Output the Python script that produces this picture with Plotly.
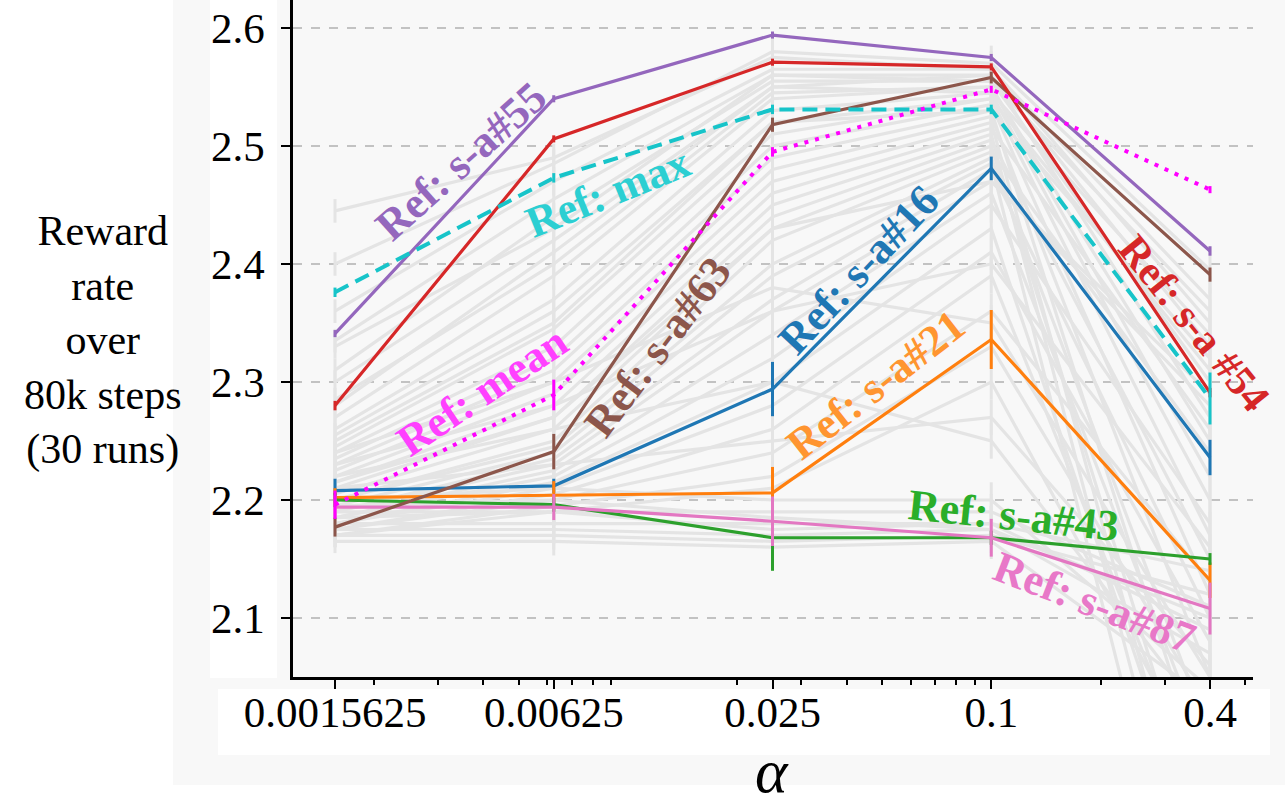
import plotly.graph_objects as go

# ---------------- data ----------------
alphas = [0.0015625, 0.00625, 0.025, 0.1, 0.4]
alpha_labels = ["0.0015625", "0.00625", "0.025", "0.1", "0.4"]
y_ticks = [2.1, 2.2, 2.3, 2.4, 2.5, 2.6]
y_tick_labels = ["2.1", "2.2", "2.3", "2.4", "2.5", "2.6"]
minor_ticks = [0.002, 0.003, 0.004, 0.005, 0.006, 0.007, 0.008, 0.009,
               0.02, 0.03, 0.04, 0.05, 0.06, 0.07, 0.08, 0.09,
               0.2, 0.3, 0.5]

# highlighted reference curves (mean reward rate) and their error half-widths
sa55 = [2.341, 2.540, 2.594, 2.575, 2.411]
sa55_err = [0.003, 0.003, 0.003, 0.003, 0.004]
sa54 = [2.280, 2.506, 2.571, 2.567, 2.291]
sa54_err = [0.004, 0.003, 0.003, 0.003, 0.004]
sa63 = [2.177, 2.241, 2.518, 2.558, 2.391]
sa63_err = [0.008, 0.015, 0.006, 0.005, 0.006]
ref_max = [2.376, 2.473, 2.531, 2.531, 2.286]
ref_max_err = [0.004, 0.004, 0.004, 0.004, 0.022]
ref_mean = [2.196, 2.289, 2.495, 2.548, 2.463]
ref_mean_err = [0.012, 0.013, 0.004, 0.003, 0.003]
sa16 = [2.208, 2.212, 2.294, 2.481, 2.236]
sa16_err = [0.010, 0.006, 0.023, 0.010, 0.015]
sa21 = [2.202, 2.204, 2.206, 2.336, 2.132]
sa21_err = [0.008, 0.012, 0.022, 0.025, 0.015]
sa43 = [2.200, 2.196, 2.168, 2.168, 2.150]
sa43_err = [0.006, 0.006, 0.028, 0.006, 0.005]
sa87 = [2.194, 2.194, 2.182, 2.168, 2.108]
sa87_err = [0.010, 0.011, 0.021, 0.016, 0.022]

# background curves (other state-action references)
grey_lines = [
    [2.445, 2.490, 2.575, 2.565, 2.370],
    [2.400, 2.485, 2.580, 2.570, 2.395],
    [2.360, 2.470, 2.565, 2.565, 2.350],
    [2.335, 2.455, 2.560, 2.560, 2.330],
    [2.310, 2.440, 2.555, 2.555, 2.300],
    [2.300, 2.420, 2.550, 2.560, 2.270],
    [2.285, 2.400, 2.545, 2.550, 2.250],
    [2.270, 2.390, 2.540, 2.550, 2.220],
    [2.260, 2.370, 2.530, 2.545, 2.200],
    [2.255, 2.360, 2.520, 2.540, 2.310],
    [2.245, 2.345, 2.510, 2.540, 2.170],
    [2.240, 2.330, 2.500, 2.535, 2.120],
    [2.235, 2.320, 2.490, 2.530, 1.950],
    [2.230, 2.310, 2.480, 2.525, 2.050],
    [2.225, 2.300, 2.470, 2.520, 1.850],
    [2.220, 2.290, 2.460, 2.515, 2.260],
    [2.215, 2.280, 2.450, 2.510, 1.800],
    [2.210, 2.270, 2.440, 2.505, 2.150],
    [2.205, 2.260, 2.430, 2.500, 1.900],
    [2.200, 2.250, 2.420, 2.495, 2.240],
    [2.200, 2.245, 2.400, 2.490, 2.000],
    [2.195, 2.240, 2.390, 2.485, 1.750],
    [2.190, 2.235, 2.370, 2.480, 2.100],
    [2.190, 2.230, 2.360, 2.470, 2.290],
    [2.185, 2.225, 2.340, 2.460, 1.980],
    [2.185, 2.220, 2.320, 2.450, 2.180],
    [2.180, 2.215, 2.300, 2.430, 1.880],
    [2.180, 2.210, 2.280, 2.410, 2.080],
    [2.175, 2.205, 2.260, 2.390, 1.930],
    [2.175, 2.200, 2.240, 2.360, 2.130],
    [2.170, 2.195, 2.220, 2.330, 2.020],
    [2.170, 2.190, 2.210, 2.300, 1.960],
    [2.210, 2.230, 2.250, 2.270, 2.060],
    [2.220, 2.260, 2.300, 2.250, 2.010],
    [2.200, 2.210, 2.200, 2.200, 2.040],
    [2.190, 2.190, 2.190, 2.190, 2.110],
    [2.180, 2.180, 2.180, 2.180, 2.090],
    [2.175, 2.175, 2.170, 2.175, 2.070],
    [2.170, 2.170, 2.165, 2.170, 2.120],
    [2.165, 2.165, 2.160, 2.165, 2.030],
    [2.185, 2.190, 2.175, 2.180, 2.140],
    [2.195, 2.200, 2.185, 2.175, 2.100],
    [2.250, 2.350, 2.520, 2.530, 2.320],
    [2.280, 2.410, 2.550, 2.545, 2.340],
    [2.215, 2.270, 2.430, 2.470, 2.280],
    [2.230, 2.280, 2.360, 2.400, 2.160],
    [2.240, 2.300, 2.380, 2.350, 2.050],
    [2.330, 2.430, 2.560, 2.555, 2.360],
]
grey_err = [0.010, 0.012, 0.015, 0.015, 0.020]

# ---------------- styling ----------------
W, H = 1285, 807
L, R, T, B = 293, 32, 0, 130
PW, PH = W - L - R, H - T - B


def px(xp):
    return (xp - L) / PW


def py(yp):
    return (H - B - yp) / PH


SERIF = "Liberation Serif, Times New Roman, serif"

fig = go.Figure()

for g in grey_lines:
    fig.add_trace(go.Scatter(
        x=alphas, y=g, mode="lines",
        line=dict(color="#e4e4e4", width=3.2),
        error_y=dict(type="data", array=grey_err, color="#e4e4e4",
                     thickness=3, width=0),
        hoverinfo="skip", showlegend=False))

series = [
    (sa16, sa16_err, "#1f77b4", "solid"),
    (sa21, sa21_err, "#ff7f0e", "solid"),
    (sa43, sa43_err, "#2ca02c", "solid"),
    (sa87, sa87_err, "#e377c2", "solid"),
    (sa63, sa63_err, "#8c564b", "solid"),
    (sa54, sa54_err, "#d62728", "solid"),
    (sa55, sa55_err, "#9467bd", "solid"),
    (ref_max, ref_max_err, "#17c4c9", "15px,8px"),
    (ref_mean, ref_mean_err, "#ff00ff", "4px,7px"),
]
for vals, err, col, dash in series:
    fig.add_trace(go.Scatter(
        x=alphas, y=vals, mode="lines",
        line=dict(color=col, width=3.2 if dash == "solid" else 4, dash=dash),
        error_y=dict(type="data", array=err, color=col, thickness=3, width=0),
        showlegend=False))

# ---------------- labels ----------------
labels = [
    ("Ref: s-a#55", "#9467bd", 461, 162, -42, 44),
    ("Ref: max", "#2ccfd2", 608, 193, -22, 44),
    ("Ref: s-a#63", "#8c564b", 657, 347, -53, 44),
    ("Ref: mean", "#ff40ff", 482, 391, -34, 44),
    ("Ref: s-a#16", "#1f77b4", 858, 270, -47, 44),
    ("Ref: s-a#21", "#ff9530", 875, 385, -38, 44),
    ("Ref: s-a#43", "#2aae2a", 1013, 515, 6, 44),
    ("Ref: s-a#87", "#e878c8", 1094, 602, 21, 44),
    ("Ref: s-a #54", "#d62728", 1194, 323, 51, 42),
]
annotations = []
for text, col, xc, yc, ang, fs in labels:
    annotations.append(dict(
        text="<b>%s</b>" % text, x=px(xc), y=py(yc), xref="paper", yref="paper",
        xanchor="center", yanchor="middle", showarrow=False, textangle=ang,
        font=dict(family=SERIF, size=fs, color=col)))

annotations.append(dict(
    text="Reward<br>rate<br>over<br>80k steps<br>(30 runs)",
    x=px(103), y=py(340), xref="paper", yref="paper", xanchor="center",
    yanchor="middle", showarrow=False, align="center",
    font=dict(family=SERIF, size=42, color="black")))
annotations.append(dict(
    text="<i>α</i>", x=px(772), y=py(771), xref="paper", yref="paper",
    xanchor="center", yanchor="middle", showarrow=False,
    font=dict(family=SERIF, size=62, color="black")))

shapes = [
    dict(type="rect", xref="paper", yref="paper", x0=px(173), x1=px(W + 5),
         y0=py(785), y1=py(-5), fillcolor="#f8f8f8", line_width=0, layer="below"),
    dict(type="rect", xref="paper", yref="paper", x0=px(210), x1=px(277),
         y0=py(678), y1=py(-5), fillcolor="white", line_width=0, layer="below"),
    dict(type="rect", xref="paper", yref="paper", x0=px(218), x1=px(1270),
         y0=py(755), y1=py(689), fillcolor="white", line_width=0, layer="below"),
]

fig.update_layout(
    width=W, height=H, autosize=False,
    margin=dict(l=L, r=R, t=T, b=B, pad=0),
    paper_bgcolor="white", plot_bgcolor="#f8f8f8",
    showlegend=False, annotations=annotations, shapes=shapes,
    xaxis=dict(
        type="log", range=[-2.9218, -0.2796],
        tickmode="array", tickvals=alphas, ticktext=alpha_labels,
        ticks="outside", ticklen=9, tickwidth=2, tickcolor="black",
        showline=True, linecolor="black", linewidth=2.5, mirror=False,
        showgrid=False, zeroline=False, ticklabelstandoff=-13,
        tickfont=dict(family=SERIF, size=43, color="black"),
        minor=dict(tickmode="array", tickvals=minor_ticks, ticks="outside",
                   ticklen=5, tickwidth=1.5, tickcolor="black", showgrid=False),
    ),
    yaxis=dict(
        range=[2.05, 2.6237], tickmode="array", tickvals=y_ticks,
        ticktext=y_tick_labels,
        ticks="outside", ticklen=9, tickwidth=2, tickcolor="black",
        showline=True, linecolor="black", linewidth=2.5,
        showgrid=True, gridcolor="#c2c2c2", gridwidth=1.5, griddash="dash",
        zeroline=False, ticklabelstandoff=8,
        tickfont=dict(family=SERIF, size=43, color="black"),
    ),
)

fig.write_html("out.html")
